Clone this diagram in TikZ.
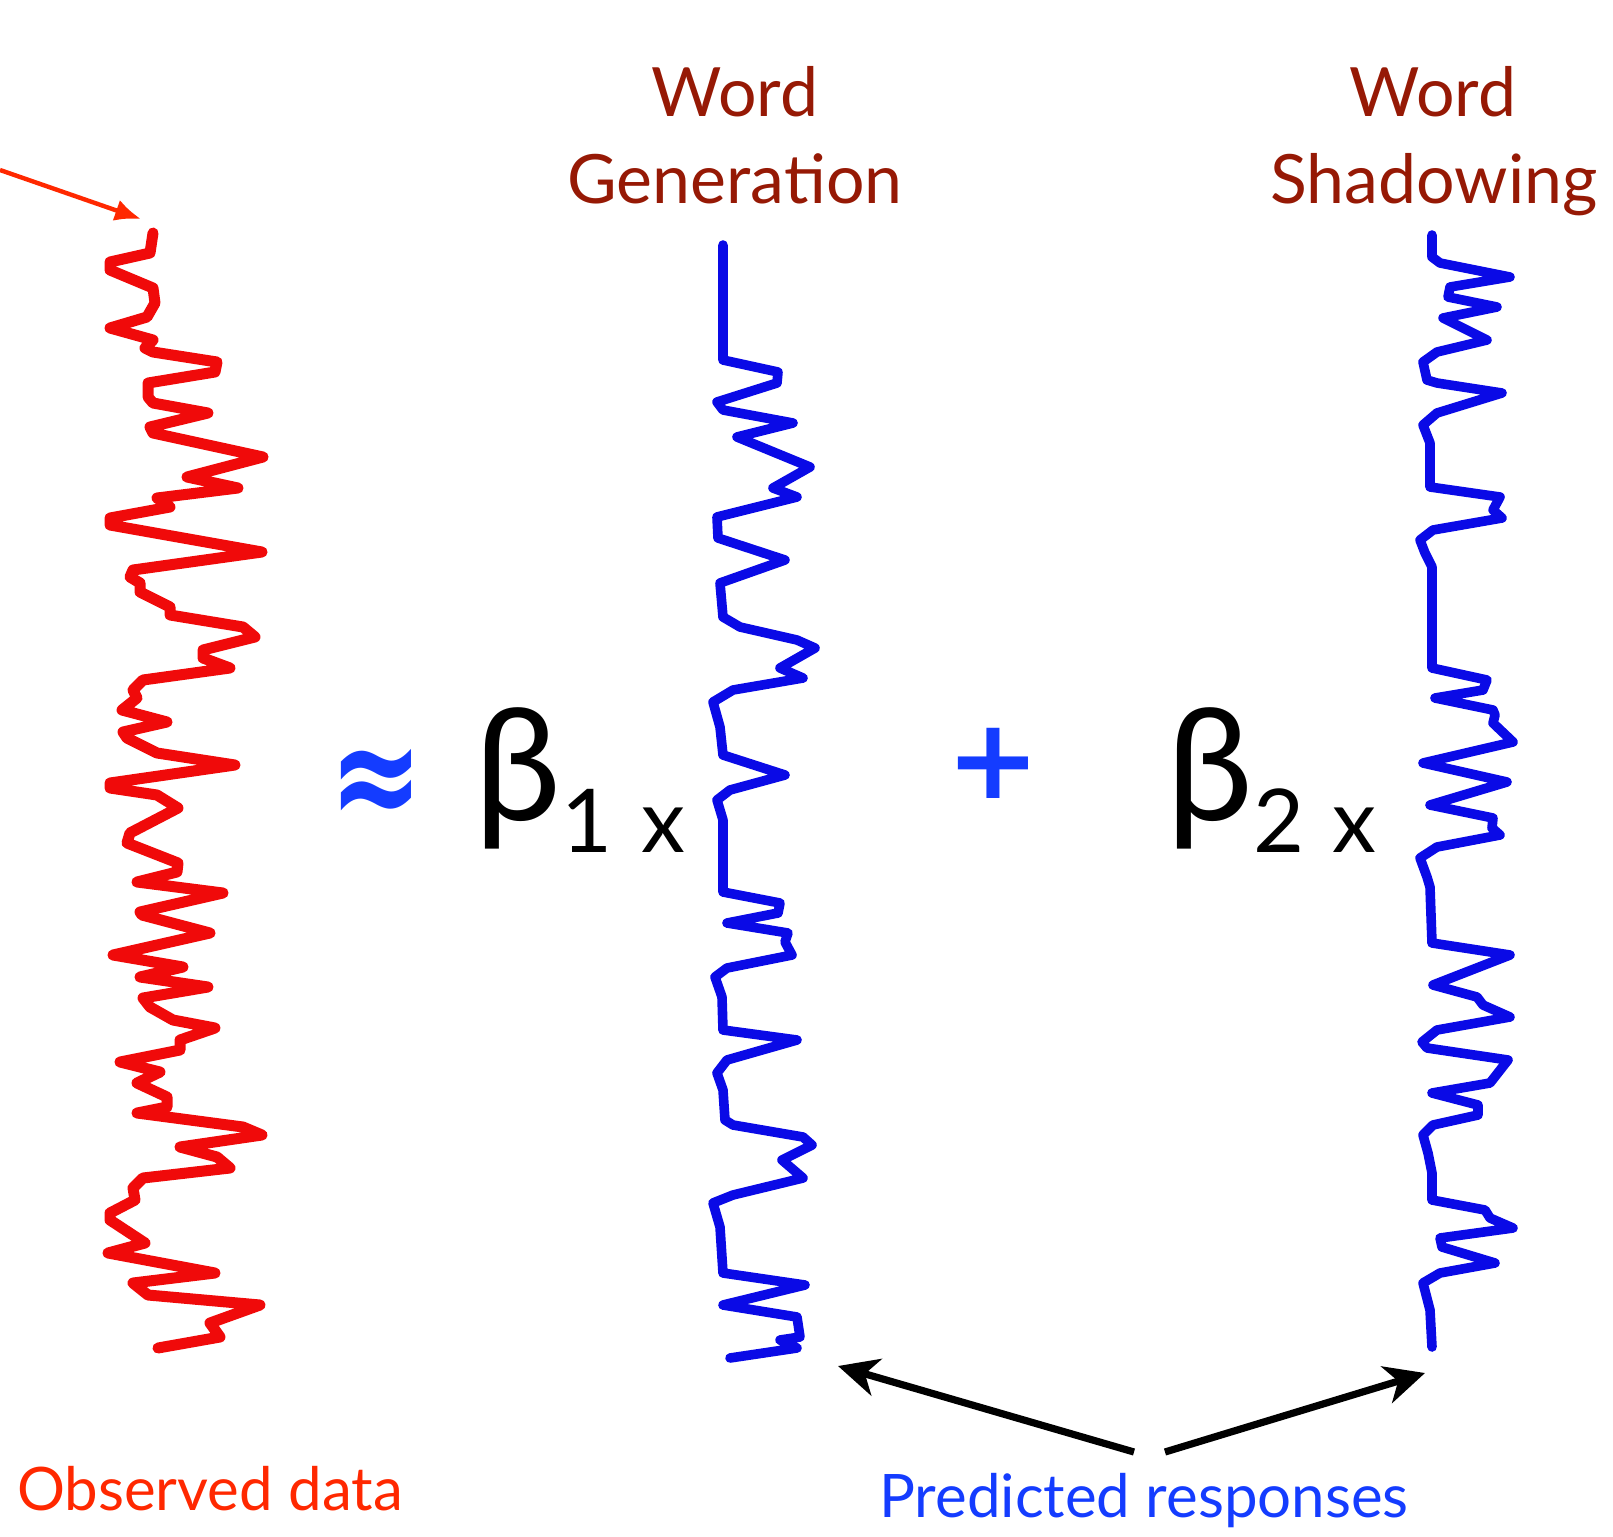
\documentclass[tikz,border=0pt]{standalone}
\usepackage{fontspec}
\setmainfont{Lato}
\newfontfamily\symfont{DejaVu Sans}
\usetikzlibrary{arrows.meta}
\definecolor{lblred}{RGB}{150,25,5}
\definecolor{obsred}{RGB}{255,40,0}
\definecolor{predblue}{RGB}{20,60,255}
\definecolor{wavered}{RGB}{240,10,10}
\definecolor{waveblue}{RGB}{10,10,230}
\tikzset{
  lbl/.style={anchor=base, inner sep=0pt, text=lblred, font=\fontsize{34}{40}\selectfont},
  botlbl/.style={anchor=base, inner sep=0pt, font=\fontsize{30}{36}\selectfont},
  beta/.style={anchor=base, inner sep=0pt, font=\fontsize{78}{84}\selectfont},
  sub/.style={anchor=base, inner sep=0pt, font=\fontsize{44}{50}\selectfont},
  redwave/.style={draw=wavered, line width=5.5pt, line join=round, line cap=round},
  bluewave/.style={draw=waveblue, line width=4.8pt, line join=round, line cap=round},
  blackarrow/.style={line width=3.6pt, -{Stealth[length=20pt,width=19pt,inset=6pt]}},
}
\begin{document}
\begin{tikzpicture}[x=0.5pt,y=-0.5pt]
\useasboundingbox (0,0) rectangle (1613,1537);

% labels
\node[lbl] (w1) at (735,116) {Word};
\node[lbl] (gen) at (735,203) {Generation};
\node[lbl] (w2) at (1433,116) {Word};
\node[lbl] (sha) at (1434,203) {Shadowing};
\node[botlbl, text=obsred] (obs) at (210,1510) {Observed data};
\node[botlbl, text=predblue] (pred) at (1144,1517) {Predicted responses};

% formula
\node[anchor=center, inner sep=0pt, text=predblue, font=\symfont\bfseries\fontsize{56}{60}\selectfont, yscale=1.35] (approx) at (376,788) {≈};
\node[beta] (b1) at (518,820) {β};
\node[sub] (s1) at (587,852) {1};
\node[sub] (x1) at (663,852) {x};
\node[anchor=center, inner sep=0pt, text=predblue, font=\symfont\bfseries\fontsize{56}{60}\selectfont] (plus) at (993,763) {+};
\node[beta] (b2) at (1210,820) {β};
\node[sub] (s2) at (1279,852) {2};
\node[sub] (x2) at (1354,852) {x};

% observed data (red)
\draw[redwave] (153,233) -- (150,253) -- (110,262) -- (110,270) -- (153,288) -- (155,303) -- (147,317) -- (110,328) -- (153,340) -- (145,348) -- (153,352) -- (217,362) -- (215,372) -- (148,383) -- (148,397) -- (153,403) -- (208,413) -- (150,427) -- (153,433) -- (263,457) -- (187,477) -- (238,488) -- (157,498) -- (170,507) -- (110,518) -- (110,525) -- (262,552) -- (133,570) -- (130,577) -- (140,583) -- (140,592) -- (170,607)
 -- (170,615) -- (243,627) -- (255,637) -- (203,650) -- (203,658) -- (230,668) -- (143,680) -- (133,690) -- (137,698) -- (122,710) -- (167,722) -- (123,732) -- (127,738) -- (157,753) -- (235,765) -- (110,783) -- (110,788) -- (157,795) -- (178,808) -- (130,833) -- (127,843) -- (178,863) -- (177,872) -- (137,882) -- (223,893) -- (140,912) -- (142,915) -- (210,933) -- (113,955) -- (183,967) -- (140,977) -- (208,987)
 -- (143,998) -- (150,1007) -- (173,1020) -- (215,1028) -- (180,1040) -- (180,1050) -- (120,1062) -- (160,1072) -- (137,1083) -- (167,1097) -- (167,1107) -- (137,1113) -- (243,1127) -- (262,1135) -- (180,1147) -- (217,1157) -- (230,1168) -- (143,1178) -- (133,1188) -- (135,1200) -- (110,1213) -- (110,1220) -- (145,1243) -- (108,1253) -- (215,1273) -- (133,1283) -- (148,1295) -- (260,1305) -- (210,1323) -- (220,1337) -- (158,1348);

% word generation (blue)
\draw[bluewave] (723,245) -- (723,360) -- (778,372) -- (777,383) -- (717,402) -- (723,410) -- (793,423) -- (737,437) -- (810,467) -- (773,488) -- (797,497) -- (717,517) -- (718,538) -- (785,560) -- (720,583) -- (723,617) -- (740,627) -- (797,640) -- (815,648) -- (780,668) -- (803,678) -- (733,690) -- (713,702) -- (720,727) -- (723,755) -- (785,775) -- (730,790) -- (717,800) -- (723,820) -- (723,892) -- (780,903) -- (778,913) -- (727,923) -- (788,933) -- (785,942) -- (792,955) -- (727,968) -- (715,977) -- (722,997) -- (723,1030) -- (797,1040) -- (727,1060) -- (717,1073) -- (723,1090) -- (725,1120) -- (733,1125) -- (803,1137) -- (812,1145) -- (782,1160) -- (803,1178) -- (733,1195) -- (713,1203) -- (720,1227) -- (723,1273) -- (805,1285) -- (723,1305) -- (797,1317) -- (800,1337) -- (780,1340) -- (797,1348) -- (730,1358);

% word shadowing (blue)
\draw[bluewave] (1432,235) -- (1432,257) -- (1440,263) -- (1510,277) -- (1450,287) -- (1448,297) -- (1497,307) -- (1443,318) -- (1487,340) -- (1437,352) -- (1423,362) -- (1427,380) -- (1437,383) -- (1502,393) -- (1437,413) -- (1423,425) -- (1430,443) -- (1430,487) -- (1500,497) -- (1493,510) -- (1502,518) -- (1433,530) -- (1420,540) -- (1425,553) -- (1432,567) -- (1432,668) -- (1487,680) -- (1483,690) -- (1435,698) -- (1493,710) -- (1495,715) -- (1493,723) -- (1513,742) -- (1423,763) -- (1507,782) -- (1430,805) -- (1493,818) -- (1492,828) -- (1500,835) -- (1437,847) -- (1420,858) -- (1427,877) -- (1430,887) -- (1432,943) -- (1510,955) -- (1433,985) -- (1477,997) -- (1483,1005) -- (1510,1017) -- (1437,1030) -- (1422,1042) -- (1427,1048) -- (1508,1060) -- (1490,1083) -- (1432,1093) -- (1478,1105) -- (1478,1115) -- (1433,1125) -- (1423,1135) -- (1428,1153) -- (1432,1173) -- (1432,1200) -- (1485,1210) -- (1490,1218) -- (1513,1228) -- (1440,1238) -- (1442,1247) -- (1495,1263) -- (1440,1273) -- (1423,1283) -- (1430,1310) -- (1432,1347);

% arrows
\coordinate (redfrom) at (0,170);
\coordinate (redtip) at (141,219);
\draw[draw=obsred, line width=2.2pt, -{Latex[length=13pt,width=11pt]}] (redfrom) -- (redtip);

\coordinate (pl) at (1134,1452);
\coordinate (pr) at (1165,1452);
\coordinate (genend) at (838,1366);
\coordinate (shaend) at (1425,1373);
\draw[blackarrow] (pl) -- (genend);
\draw[blackarrow] (pr) -- (shaend);
\end{tikzpicture}
\end{document}
